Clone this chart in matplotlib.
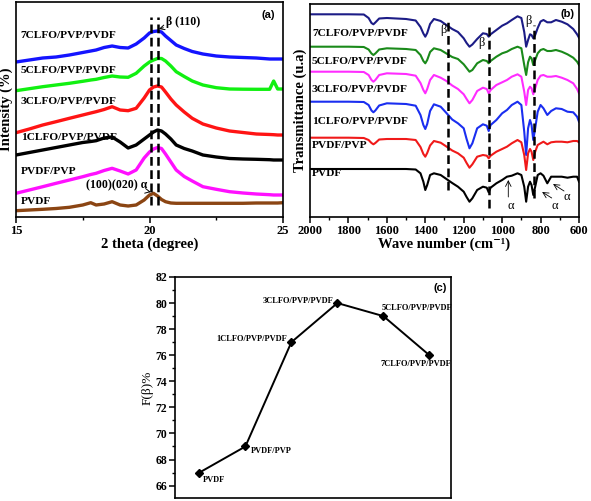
import matplotlib
matplotlib.use('Agg')
import matplotlib.pyplot as plt
from matplotlib.ticker import MultipleLocator

plt.rcParams['font.family'] = ['Liberation Serif', 'DejaVu Serif']
plt.rcParams['font.weight'] = 'bold'
plt.rcParams['axes.labelweight'] = 'bold'
plt.rcParams['axes.linewidth'] = 1.2

# ---- (a) XRD ----
two_theta = [15, 15.5, 16, 16.5, 17, 17.5, 17.8, 18, 18.3, 18.6, 18.9, 19.2, 19.5, 19.8, 20.0, 20.15,
             20.3, 20.45, 20.6, 20.8, 21.0, 21.3, 21.6, 22, 22.5, 23, 23.5, 24, 24.5, 24.65, 24.8, 25]
xrd_7clfo = [155, 157, 159, 160, 162, 164.5, 166, 167, 169.5, 171, 169.5, 169, 173, 179, 184, 185.5,
             186, 185, 181, 176.5, 172, 168.5, 165.5, 163, 161, 160, 159.5, 159, 158, 158, 158, 158]
xrd_5clfo = [126.3, 128.3, 130.3, 132, 133.7, 135.7, 137, 137.7, 139.5, 141, 140, 139.7, 143.7, 151, 155, 157,
             158.5, 158.5, 156, 151, 145.3, 140.5, 136, 132, 129.3, 128, 127.8, 127.7, 127.7, 136, 128, 128]
xrd_3clfo = [84.3, 88, 92, 95.3, 98.7, 102, 104, 105.3, 107.5, 110.3, 107, 106.3, 108.7, 119, 127, 130,
             131, 130, 125, 118, 112, 105, 98.7, 93, 89, 86, 84.5, 83, 82.5, 82.3, 82, 82]
xrd_1clfo = [62, 64.5, 67, 69.5, 72, 74.5, 75.5, 76.3, 79, 80, 75, 69, 72, 78, 82, 85,
             87, 86, 83, 78, 72, 68.5, 66, 62, 60, 58.5, 58, 57.7, 57.3, 57, 57, 57]
xrd_pvdf_pvp = [23.7, 27, 30.3, 33.7, 37, 40.3, 42.5, 43.7, 46.5, 48.7, 46, 43, 47, 59, 65, 68,
                69.5, 68.5, 63, 55, 47, 40.5, 36, 30.3, 27.7, 25.3, 24, 23, 22.3, 22, 22, 22]
xrd_pvdf = [6.3, 7, 7.7, 8.5, 9.7, 12, 14.3, 12, 13, 15.3, 12, 11, 12, 17, 22, 23.7,
            21, 17.5, 15.3, 14, 13.7, 13.7, 13.7, 13.7, 13.7, 13.7, 13.7, 14, 14, 14, 14, 14.3]
xrd_dash = [20.05, 20.3]

# ---- (b) FTIR ----
wavenumber = [2000, 1800, 1720, 1695, 1680, 1670, 1660, 1640, 1600, 1500,
              1450, 1425, 1410, 1400, 1390, 1375, 1355, 1320, 1290, 1260,
              1230, 1200, 1185, 1170, 1155, 1130, 1100, 1080, 1070, 1060,
              1030, 1000, 975, 950, 920, 900, 885, 875, 865, 855,
              847, 838, 828, 815, 800, 785, 765, 745, 720, 690,
              660, 630, 610, 600]
ir_7clfo = [202.7, 202.7, 202.5, 199, 194, 192.7, 194.5, 198.5, 199, 198,
            196.5, 190, 183.5, 180.3, 184, 193, 198, 196, 192, 188,
            185, 178.7, 174, 170.3, 172.5, 178, 183.7, 183, 180.3, 182.7,
            187, 191.3, 193.7, 197, 200.7, 199, 185, 170.3, 177, 182.7,
            182, 178.7, 182, 189, 195.5, 197, 194.7, 194.7, 197, 195.3,
            192.7, 188, 182.7, 179.3]
ir_5clfo = [170.3, 170.3, 170, 167.5, 163.5, 162, 163.5, 167.5, 168.7, 168,
            167, 162, 156, 153.7, 157, 165, 168.7, 167, 163.5, 160,
            158, 152.7, 149, 145.3, 147, 153.7, 157, 156, 153.7, 156,
            160.3, 163.7, 165.3, 168, 170.3, 168.7, 152, 142, 154.7, 160.3,
            158.7, 152, 157, 163.7, 167, 168, 166, 166, 167, 165.3,
            162.7, 159.3, 155.3, 152]
ir_3clfo = [145.3, 145.3, 145, 142, 137, 135.3, 137, 142, 143.7, 143,
            141.3, 134, 127, 123.7, 128, 137, 142, 139.3, 136, 131.5,
            128, 122.7, 118, 113.7, 117, 126, 129.3, 128, 123.7, 127,
            132, 134.7, 137, 140.3, 142.7, 140.3, 125.3, 112, 127, 130.3,
            128.7, 122.7, 128.7, 137, 141.3, 142, 140.3, 140.3, 141, 139.3,
            137, 133.7, 128, 123.7]
ir_1clfo = [115.3, 115.3, 115, 112, 106.5, 104.7, 106.5, 111.5, 113.7, 113,
            111.3, 102, 92, 88, 93, 106, 112.7, 110.3, 104, 97.5,
            93.7, 88.7, 78, 68.7, 73.7, 88.7, 92.7, 91.3, 86, 92,
            97, 103.7, 107, 112, 115.3, 112, 85.3, 62, 88.7, 97,
            92, 77, 88.7, 105.3, 112, 108.7, 102, 106, 108.7, 108,
            105.3, 104.7, 100.3, 95.3]
ir_pvdf_pvp = [79.3, 79.3, 79, 77, 74, 72.7, 74, 77.5, 78, 78,
               77, 70, 63, 60.3, 64, 71.5, 76, 74.3, 70.5, 66.5,
               63.7, 59.3, 54, 49.3, 52.7, 60.3, 62, 61.3, 58.7, 61.3,
               65.3, 68, 70.3, 73.7, 77, 74.7, 62, 47, 63.7, 68,
               65.3, 57, 65.3, 72, 73.7, 75.3, 72.7, 74.7, 75.3, 75.3,
               74.7, 76, 76, 74.7]
ir_pvdf = [48, 48, 48, 48, 48, 48, 48, 48, 48, 48,
           47.5, 43.7, 35.3, 27, 32, 42, 43.7, 42, 38, 34,
           30.3, 25.3, 20, 15.3, 18.7, 27, 30.3, 29.3, 24.7, 29.3,
           33.7, 37, 40.3, 41.3, 43.7, 42, 30.3, 15.3, 30.3, 35.3,
           32, 22, 30.3, 42, 43.7, 41.3, 33.7, 40.3, 40.3, 40.3,
           39.3, 40.3, 40.3, 35.3]
ir_dash = [1280, 1070, 835]
ir_dash_lo = [27, 9, 19]
ir_dash_hi = [199, 192, 192]

# ---- (c) F(beta) ----
samples = ['PVDF', 'PVDF/PVP', '1CLFO/PVP/PVDF', '3CLFO/PVP/PVDF', '5CLFO/PVP/PVDF', '7CLFO/PVP/PVDF']
f_beta = [67, 69, 77, 80, 79, 76]

names = ['7CLFO/PVP/PVDF', '5CLFO/PVP/PVDF', '3CLFO/PVP/PVDF', '1CLFO/PVP/PVDF', 'PVDF/PVP', 'PVDF']

fig = plt.figure(figsize=(5.91, 5.01), dpi=100)
axa = fig.add_axes([16/591, 1-217/501, 267/591, 215/501])
axb = fig.add_axes([310/591, 1-217/501, 269/591, 213/501])
axc = fig.add_axes([175/591, 1-498/501, 276/591, 221/501])

# (a)
xrd_curves = [xrd_7clfo, xrd_5clfo, xrd_3clfo, xrd_1clfo, xrd_pvdf_pvp, xrd_pvdf]
xrd_colors = ['#1414ff', '#11f011', '#ff1414', '#000000', '#ff10ff', '#8b4513']
xrd_label_y = [182, 146.5, 116, 79, 46, 16]
for y, c in zip(xrd_curves, xrd_colors):
    axa.plot(two_theta, y, color=c, lw=2.4)
for n, ly in zip(names, xrd_label_y):
    axa.text(15.18, ly, n, fontsize=8.2, va='center', ha='left')
axa.vlines(xrd_dash, 12, 200, colors='k', linestyles=(0, (3.5, 1.8)), lw=1.8)
axa.annotate('\u03b2 (110)', xy=(20.35, 188), xytext=(20.62, 195), fontsize=8.5, va='center',
             arrowprops=dict(arrowstyle='->', lw=0.7, color='k', shrinkA=0, shrinkB=0))
axa.annotate('(100)(020) \u03b1', xy=(20.05, 25), xytext=(19.9, 32), fontsize=8.5, va='center', ha='right',
             arrowprops=dict(arrowstyle='->', lw=0.7, color='k', shrinkA=0, shrinkB=0))
axa.set_xlim(15, 25)
axa.set_ylim(0, 215)
axa.set_yticks([])
axa.xaxis.set_major_locator(MultipleLocator(5))
axa.xaxis.set_minor_locator(MultipleLocator(2.5))
axa.tick_params(axis='x', which='major', direction='out', length=4, width=1.1, labelsize=9, pad=2)
axa.tick_params(axis='x', which='minor', direction='out', length=2.5, width=1.0)
axa.set_xlabel('2 theta (degree)', fontsize=10.5, labelpad=0)
axa.set_ylabel('Intensity (%)', fontsize=10.5, labelpad=2)
axa.text(0.97, 0.965, '(a)', transform=axa.transAxes, ha='right', va='top', fontsize=8,
         family='Liberation Sans')

# (b)
ir_curves = [ir_7clfo, ir_5clfo, ir_3clfo, ir_1clfo, ir_pvdf_pvp, ir_pvdf]
ir_colors = ['#1c1c86', '#1a8a1a', '#ff2cff', '#1a2ef0', '#f01a1a', '#000000']
ir_label_y = [184, 155, 128, 96, 71, 44]
for y, c in zip(ir_curves, ir_colors):
    axb.plot(wavenumber, y, color=c, lw=1.5)
for n, ly in zip(names, ir_label_y):
    axb.text(1990, ly, n, fontsize=8.2, va='center', ha='left')
for w, lo, hi in zip(ir_dash, ir_dash_lo, ir_dash_hi):
    axb.vlines(w, lo, hi, colors='k', linestyles=(0, (3.5, 1.8)), lw=1.8)
for w, yv in [(1308, 187), (1106, 174), (865, 196)]:
    axb.text(w, yv, '\u03b2', fontsize=9, ha='center', va='center', weight='normal')
for w, yv in [(954, 11), (725, 11), (664, 20)]:
    axb.text(w, yv, '\u03b1', fontsize=9, ha='center', va='center', weight='normal')
axb.annotate('', xy=(968, 37), xytext=(968, 20),
             arrowprops=dict(arrowstyle='->', lw=0.6, color='k', shrinkA=0, shrinkB=0))
axb.annotate('', xy=(792, 25), xytext=(742, 19),
             arrowprops=dict(arrowstyle='->', lw=0.6, color='k', shrinkA=0, shrinkB=0))
axb.annotate('', xy=(735, 33), xytext=(678, 26),
             arrowprops=dict(arrowstyle='->', lw=0.6, color='k', shrinkA=0, shrinkB=0))
axb.set_xlim(2000, 600)
axb.set_ylim(0, 213)
axb.set_yticks([])
axb.xaxis.set_major_locator(MultipleLocator(200))
axb.xaxis.set_minor_locator(MultipleLocator(100))
axb.tick_params(axis='x', which='major', direction='out', length=4, width=1.1, labelsize=9, pad=2)
axb.tick_params(axis='x', which='minor', direction='out', length=2.5, width=1.0)
axb.set_xlabel('Wave number (cm\u207b\u00b9)', fontsize=10.5, labelpad=0)
axb.set_ylabel('Transmittance (u.a)', fontsize=10.5, labelpad=2)
axb.text(0.985, 0.975, '(b)', transform=axb.transAxes, ha='right', va='top', fontsize=8,
         family='Liberation Sans')

# (c)
xs = list(range(1, len(samples) + 1))
axc.plot(xs, f_beta, color='k', lw=1.4, marker='D', ms=4.5)
offsets = [(2.2, -5, 'left'), (3.6, -3, 'left'), (-3.2, 2, 'right'),
           (-2.7, 1.2, 'right'), (-1.2, 6, 'left'), (-9.6, -6, 'center')]
for x, v, s, (dx, dy, ha) in zip(xs, f_beta, samples, offsets):
    axc.annotate(s, (x, v), xytext=(dx, dy), textcoords='offset points',
                 ha=ha, va='center', fontsize=6)
axc.set_xlim(0.47, 6.47)
axc.set_ylim(65.05, 82)
axc.set_xticks([])
axc.yaxis.set_major_locator(MultipleLocator(2))
axc.yaxis.set_minor_locator(MultipleLocator(1))
axc.tick_params(axis='y', which='major', direction='out', length=4, width=1.1, labelsize=8.5, pad=1.5)
axc.tick_params(axis='y', which='minor', direction='out', length=2.5, width=1.0)
axc.set_ylabel('F(\u03b2)%', fontsize=9.5, fontweight='normal', labelpad=1)
axc.text(0.985, 0.975, '(c)', transform=axc.transAxes, ha='right', va='top', fontsize=8,
         family='Liberation Sans')

for ax in (axa, axb, axc):
    for t in ax.get_xticklabels() + ax.get_yticklabels():
        t.set_fontweight('bold')

fig.savefig('out.png', dpi=100)
